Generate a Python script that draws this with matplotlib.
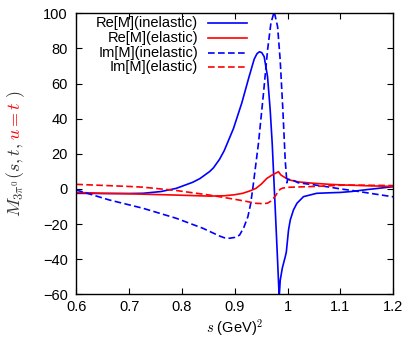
import numpy as np
import matplotlib
matplotlib.use("Agg")
import matplotlib.pyplot as plt

plt.rcParams['font.family'] = ['Liberation Sans', 'DejaVu Sans']
plt.rcParams['mathtext.fontset'] = 'cm'

# Re[M] inelastic (blue solid)
re_inel_x = [0.60, 0.65, 0.70, 0.726, 0.76, 0.789, 0.8205, 0.834, 0.852, 0.8596, 0.871, 0.88,
             0.8975, 0.9133, 0.926, 0.9367, 0.942, 0.9467, 0.951, 0.9556, 0.962, 0.967, 0.9708,
             0.9746, 0.978, 0.981, 0.9835, 0.9842, 0.986, 0.99, 0.9955, 0.9975, 0.9995, 1.0017,
             1.005, 1.011, 1.0176, 1.03, 1.055, 1.08, 1.10, 1.12, 1.15, 1.18, 1.20]
re_inel_y = [-2.5, -2.6, -2.6, -2.5, -1.5, 0.3, 3.8, 5.9, 9.8, 12.0, 16.8, 21.8,
             34.4, 49.0, 62.8, 73.9, 77.0, 78.1, 77.6, 75.3, 63.9, 44.9, 26.0,
             1.3, -21.0, -41.0, -58.0, -61.0, -52.0, -45.0, -38.6, -36.0, -30.0, -23.4,
             -17.7, -12.0, -8.2, -4.4, -2.5, -2.2, -2.0, -1.5, -0.4, 0.6, 1.3]

# Im[M] inelastic (blue dashed)
im_inel_x = [0.60, 0.6625, 0.726, 0.789, 0.8395, 0.871, 0.88, 0.89, 0.90, 0.909, 0.917, 0.9248,
             0.9300, 0.9345, 0.9448, 0.9543, 0.962, 0.9683, 0.9746, 0.981, 0.9859, 0.991, 0.9954,
             0.9986, 1.0, 1.01, 1.02, 1.05, 1.08, 1.10, 1.12, 1.15, 1.18, 1.20]
im_inel_y = [-0.6, -6.3, -11.0, -16.7, -22.4, -26.8, -27.8, -28.1, -27.6, -26.3, -22.0, -15.8,
             -8.5, 1.3, 26.0, 54.4, 79.0, 94.3, 100.9, 92.4, 73.4, 45.0, 16.5,
             3.5, 5.5, 5.0, 3.5, 2.3, 1.0, 0.0, -0.8, -2.2, -3.6, -4.5]

# Re[M] elastic (red solid)
re_el_x = [0.60, 0.65, 0.70, 0.726, 0.789, 0.852, 0.88, 0.90, 0.915, 0.928, 0.94, 0.95, 0.9607,
           0.97, 0.977, 0.9827, 0.987, 0.992, 1.0, 1.005, 1.02, 1.05, 1.08, 1.11, 1.15, 1.20]
re_el_y = [-2.0, -2.5, -2.8, -3.0, -3.5, -4.1, -3.9, -3.3, -2.5, -1.2, 0.3, 2.7, 6.0,
           7.8, 8.9, 9.8, 8.0, 7.0, 5.6, 5.0, 4.0, 3.2, 2.6, 2.2, 1.8, 1.4]

# Im[M] elastic (red dashed)
im_el_x = [0.60, 0.65, 0.70, 0.726, 0.789, 0.852, 0.90, 0.92, 0.94, 0.954, 0.962, 0.968, 0.973,
           0.978, 0.982, 0.986, 0.99, 0.999, 1.02, 1.05, 1.08, 1.11, 1.15, 1.20]
im_el_y = [2.6, 2.0, 1.4, 1.0, -0.9, -3.5, -5.9, -7.0, -8.2, -8.4, -8.1, -7.0, -5.4,
           -3.5, -1.5, -0.2, 0.4, 0.9, 1.1, 1.4, 1.8, 2.2, 2.1, 1.9]

labels = ['Re[M](inelastic)', 'Re[M](elastic)', 'Im[M](inelastic)', 'Im[M](elastic)']
colors = ['#0000ff', '#ff0000', '#0000ff', '#ff0000']
styles = ['-', '-', (0, (4, 2)), (0, (4, 2))]
xticks = [0.6, 0.7, 0.8, 0.9, 1.0, 1.1, 1.2]
xticklabels = ['0.6', '0.7', '0.8', '0.9', '1', '1.1', '1.2']
yticks = [-60, -40, -20, 0, 20, 40, 60, 80, 100]

fig = plt.figure(figsize=(4.07, 3.38), dpi=100)
ax = fig.add_axes([0.1875, 0.1293, 0.7788, 0.8314])

series = [(re_inel_x, re_inel_y), (re_el_x, re_el_y), (im_inel_x, im_inel_y), (im_el_x, im_el_y)]
for (xs, ys), c, ls in zip(series, colors, styles):
    ax.plot(xs, ys, color=c, linestyle=ls, linewidth=1.2)

ax.set_xlim(0.6, 1.2)
ax.set_ylim(-60, 100)
ax.set_xticks(xticks)
ax.set_xticklabels(xticklabels)
ax.set_yticks(yticks)
ax.tick_params(direction='in', length=4, top=True, right=True, labelsize=10.5, colors='black')
ax.tick_params(axis='x', pad=4)
ax.tick_params(axis='y', pad=6)
for sp in ax.spines.values():
    sp.set_linewidth(1.0)

ax.set_xlabel(r'$s$ (GeV)$^2$', fontsize=10.5, labelpad=2)

# gnuplot-like key: right-aligned text, sample line to the right
for i, (lab, c, ls) in enumerate(zip(labels, colors, styles)):
    ypx = 23.3 + i * 14.6
    yf = 1 - ypx / 338
    fig.text(198 / 407, yf, lab, ha='right', va='center', fontsize=10.5)
    fig.add_artist(plt.Line2D([208 / 407, 247 / 407], [yf, yf], color=c, linestyle=ls,
                              linewidth=1.2, transform=fig.transFigure))

# multi-coloured y label
fig.canvas.draw()
r = fig.canvas.get_renderer()
parts = [(r'$M_{3\pi^0}(s,t,$', '#333333'), (r'$u=t$', '#ff0000'), (r'$)$', '#333333')]
texts = []
for s, c in parts:
    t = fig.text(0, 0, s, color=c, fontsize=13, rotation=90, rotation_mode='anchor',
                 ha='left', va='baseline')
    texts.append(t)
fig.canvas.draw()
gap = 3
heights = [t.get_window_extent(r).height for t in texts]
total = sum(heights) + gap * (len(texts) - 1)
ycur = (338 - 153.8) - total / 2
for t, h in zip(texts, heights):
    t.set_position((20 / 407, ycur / 338))
    ycur += h + gap

fig.savefig('out.png', dpi=100)
